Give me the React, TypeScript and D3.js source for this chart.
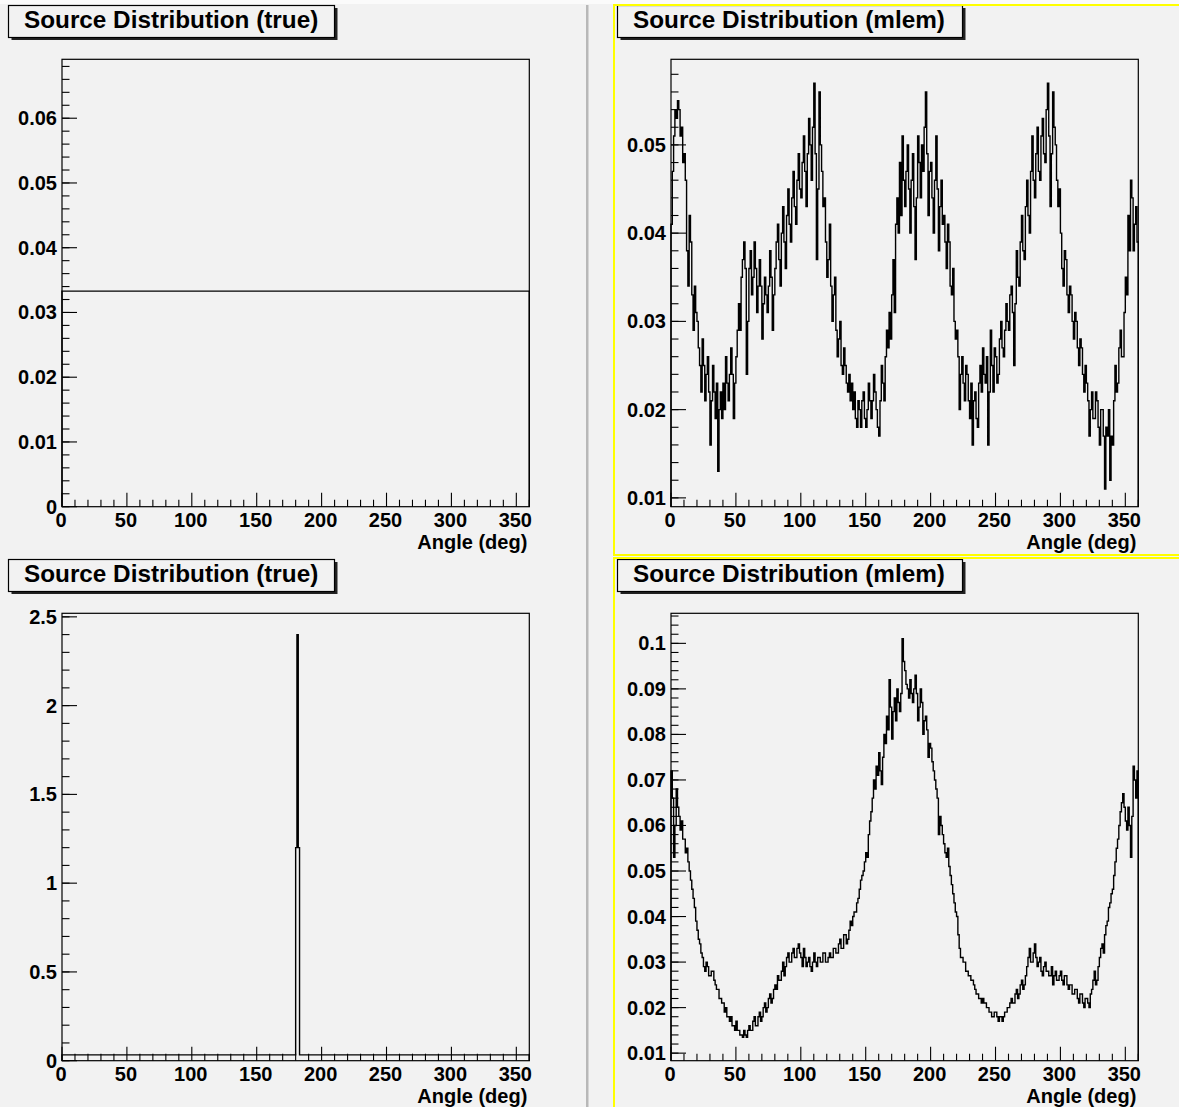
import React from "react";
import * as d3 from "d3";

// angle axis (deg)
const angleTicks = [0, 50, 100, 150, 200, 250, 300, 350];
const binWidth = 1;

// true distributions: bins given by edges
const trueUniform = [{ lo: 0, hi: 360, v: 0.0333 }];
const truePoint = [
  { lo: 0, hi: 180, v: 0.033 },
  { lo: 180, hi: 181, v: 1.2 },
  { lo: 181, hi: 182, v: 2.4 },
  { lo: 182, hi: 183, v: 1.2 },
  { lo: 183, hi: 360, v: 0.033 },
];

// mlem reconstruction, uniform source (1 deg bins)
const mlemUniform = [
  0.041, 0.047, 0.051, 0.054, 0.053, 0.055, 0.054, 0.051, 0.052, 0.048, 0.049, 0.046, 0.038, 0.034, 0.042, 0.039, 0.033, 0.029, 0.034, 0.031,
  0.03, 0.027, 0.025, 0.022, 0.028, 0.025, 0.021, 0.024, 0.026, 0.022, 0.016, 0.021, 0.025, 0.022, 0.019, 0.023, 0.013, 0.02, 0.022, 0.019,
  0.023, 0.02, 0.026, 0.023, 0.021, 0.024, 0.027, 0.024, 0.019, 0.023, 0.026, 0.029, 0.032, 0.029, 0.035, 0.037, 0.039, 0.036, 0.024, 0.03,
  0.036, 0.038, 0.033, 0.035, 0.039, 0.036, 0.031, 0.034, 0.037, 0.034, 0.028, 0.032, 0.035, 0.033, 0.031, 0.034, 0.038, 0.035, 0.029, 0.033,
  0.036, 0.039, 0.041, 0.037, 0.034, 0.04, 0.043, 0.039, 0.036, 0.042, 0.045, 0.041, 0.039, 0.044, 0.047, 0.043, 0.041, 0.046, 0.049, 0.045,
  0.044, 0.048, 0.051, 0.047, 0.043, 0.049, 0.053, 0.05, 0.046, 0.052, 0.057, 0.049, 0.037, 0.045, 0.056, 0.05, 0.047, 0.043, 0.044, 0.039,
  0.035, 0.037, 0.041, 0.034, 0.03, 0.033, 0.035, 0.029, 0.026, 0.028, 0.03, 0.025, 0.024, 0.027, 0.025, 0.023, 0.022, 0.024, 0.021, 0.023,
  0.02, 0.022, 0.019, 0.018, 0.021, 0.02, 0.018, 0.021, 0.022, 0.019, 0.018, 0.02, 0.023, 0.021, 0.019, 0.021, 0.024, 0.022, 0.02, 0.018,
  0.017, 0.021, 0.025, 0.023, 0.021, 0.026, 0.029, 0.027, 0.031, 0.028, 0.033, 0.037, 0.031, 0.041, 0.044, 0.04, 0.048, 0.042, 0.051, 0.046,
  0.043, 0.047, 0.05, 0.045, 0.04, 0.046, 0.049, 0.043, 0.037, 0.044, 0.051, 0.048, 0.044, 0.05, 0.047, 0.052, 0.056, 0.049, 0.042, 0.047,
  0.048, 0.044, 0.04, 0.046, 0.051, 0.045, 0.038, 0.043, 0.046, 0.041, 0.042, 0.039, 0.036, 0.041, 0.039, 0.034, 0.033, 0.036, 0.03, 0.028,
  0.029, 0.026, 0.02, 0.024, 0.026, 0.023, 0.021, 0.025, 0.024, 0.021, 0.019, 0.023, 0.016, 0.021, 0.022, 0.019, 0.018, 0.023, 0.025, 0.022,
  0.027, 0.024, 0.023, 0.026, 0.016, 0.022, 0.029, 0.025, 0.022, 0.027, 0.026, 0.023, 0.024, 0.028, 0.03, 0.027, 0.026, 0.029, 0.032, 0.03,
  0.029, 0.033, 0.034, 0.031, 0.025, 0.032, 0.038, 0.035, 0.034, 0.039, 0.042, 0.038, 0.037, 0.043, 0.046, 0.042, 0.04, 0.047, 0.051, 0.046,
  0.044, 0.049, 0.052, 0.047, 0.046, 0.051, 0.053, 0.049, 0.048, 0.054, 0.057, 0.051, 0.043, 0.049, 0.056, 0.052, 0.05, 0.046, 0.043, 0.045,
  0.04, 0.036, 0.034, 0.038, 0.037, 0.033, 0.031, 0.034, 0.033, 0.03, 0.028, 0.031, 0.03, 0.027, 0.025, 0.028, 0.027, 0.024, 0.022, 0.025,
  0.023, 0.021, 0.017, 0.02, 0.022, 0.019, 0.019, 0.022, 0.021, 0.018, 0.016, 0.02, 0.02, 0.017, 0.011, 0.018, 0.017, 0.02, 0.012, 0.017,
  0.016, 0.021, 0.025, 0.022, 0.023, 0.027, 0.029, 0.026, 0.026, 0.031, 0.035, 0.033, 0.042, 0.038, 0.046, 0.044, 0.038, 0.041, 0.043, 0.039,
];

// mlem reconstruction, point source (1 deg bins)
const mlemPoint = [
  0.072, 0.066, 0.053, 0.06, 0.068, 0.064, 0.062, 0.059, 0.061, 0.057, 0.057, 0.054, 0.055, 0.052, 0.05, 0.048, 0.046, 0.044, 0.042, 0.039,
  0.037, 0.035, 0.034, 0.032, 0.031, 0.029, 0.028, 0.03, 0.029, 0.027, 0.027, 0.028, 0.028, 0.026, 0.025, 0.024, 0.024, 0.022, 0.022, 0.021,
  0.021, 0.019, 0.02, 0.018, 0.018, 0.017, 0.018, 0.016, 0.016, 0.015, 0.017, 0.015, 0.015, 0.014, 0.014, 0.0135, 0.015, 0.014, 0.0135, 0.015,
  0.016, 0.015, 0.015, 0.017, 0.018, 0.016, 0.016, 0.018, 0.019, 0.017, 0.018, 0.02, 0.021, 0.019, 0.02, 0.022, 0.023, 0.021, 0.022, 0.024,
  0.025, 0.024, 0.027, 0.026, 0.026, 0.028, 0.03, 0.027, 0.029, 0.031, 0.032, 0.03, 0.03, 0.032, 0.033, 0.031, 0.031, 0.033, 0.034, 0.032,
  0.031, 0.029, 0.033, 0.031, 0.029, 0.03, 0.031, 0.029, 0.028, 0.03, 0.032, 0.03, 0.029, 0.031, 0.031, 0.03, 0.03, 0.032, 0.032, 0.03,
  0.03, 0.031, 0.032, 0.031, 0.031, 0.033, 0.033, 0.032, 0.032, 0.034, 0.035, 0.033, 0.033, 0.036, 0.036, 0.034, 0.035, 0.037, 0.039, 0.038,
  0.04, 0.041, 0.041, 0.043, 0.044, 0.046, 0.048, 0.049, 0.05, 0.052, 0.054, 0.053, 0.058, 0.061, 0.063, 0.066, 0.07, 0.068, 0.073, 0.071,
  0.076, 0.072, 0.069, 0.075, 0.08, 0.078, 0.084, 0.081, 0.092, 0.086, 0.079, 0.085, 0.088, 0.083, 0.09, 0.087, 0.085, 0.089, 0.101, 0.096,
  0.094, 0.091, 0.09, 0.088, 0.092, 0.089, 0.087, 0.09, 0.093, 0.089, 0.083, 0.086, 0.09, 0.087, 0.08, 0.083, 0.084, 0.081, 0.075, 0.078,
  0.077, 0.074, 0.072, 0.07, 0.068, 0.066, 0.058, 0.062, 0.06, 0.058, 0.056, 0.054, 0.053, 0.055, 0.051, 0.049, 0.047, 0.045, 0.043, 0.041,
  0.04, 0.036, 0.033, 0.031, 0.031, 0.03, 0.03, 0.028, 0.028, 0.027, 0.027, 0.026, 0.026, 0.025, 0.024, 0.023, 0.023, 0.022, 0.022, 0.021,
  0.022, 0.021, 0.021, 0.02, 0.02, 0.019, 0.019, 0.018, 0.018, 0.019, 0.019, 0.018, 0.017, 0.018, 0.018, 0.017, 0.018, 0.019, 0.019, 0.02,
  0.02, 0.021, 0.022, 0.021, 0.021, 0.023, 0.024, 0.022, 0.023, 0.025, 0.026, 0.024, 0.025, 0.027, 0.029, 0.031, 0.033, 0.03, 0.03, 0.032,
  0.034, 0.031, 0.029, 0.03, 0.031, 0.028, 0.027, 0.029, 0.03, 0.028, 0.028, 0.027, 0.027, 0.029, 0.025, 0.027, 0.028, 0.026, 0.026, 0.027,
  0.028, 0.026, 0.025, 0.027, 0.027, 0.025, 0.024, 0.025, 0.025, 0.023, 0.023, 0.024, 0.024, 0.022, 0.021, 0.023, 0.023, 0.021, 0.02, 0.022,
  0.022, 0.021, 0.02, 0.023, 0.024, 0.026, 0.028, 0.025, 0.026, 0.029, 0.031, 0.033, 0.034, 0.032, 0.036, 0.038, 0.039, 0.042, 0.043, 0.045,
  0.046, 0.049, 0.052, 0.055, 0.057, 0.06, 0.063, 0.065, 0.067, 0.064, 0.061, 0.059, 0.064, 0.06, 0.053, 0.062, 0.073, 0.07, 0.066, 0.072,
];

// y axis major ticks / labels per pad
const yTicksUniformTrue = ["0", "0.01", "0.02", "0.03", "0.04", "0.05", "0.06"];
const yTicksUniformMlem = ["0.01", "0.02", "0.03", "0.04", "0.05"];
const yTicksPointTrue = ["0", "0.5", "1", "1.5", "2", "2.5"];
const yTicksPointMlem = ["0.01", "0.02", "0.03", "0.04", "0.05", "0.06", "0.07", "0.08", "0.09", "0.1"];

const FONT = "'Liberation Sans', Arial, Helvetica, sans-serif";

type Bin = { lo: number; hi: number; v: number };

const toBins = (vals: number[]): Bin[] =>
  vals.map((v, i) => ({ lo: i * binWidth, hi: (i + 1) * binWidth, v }));

const Pad = ({ ox, oy, title, bins, yDomain, yTicks, minorDiv, boxW }: {
  ox: number; oy: number; title: string; bins: Bin[]; yDomain: [number, number];
  yTicks: string[]; minorDiv: number; boxW: number;
}) => {
  const left = ox + 62, right = ox + 529.3, top = oy + 59.3, bottom = oy + 506.7;
  const x = d3.scaleLinear().domain([0, 360]).range([left, right]);
  const y = d3.scaleLinear().domain(yDomain).range([bottom, top]);

  // step outline, closed down to the frame bottom at both ends
  const pts: [number, number][] = [[bins[0].lo, yDomain[0]]];
  bins.forEach((b) => pts.push([b.lo, b.v]));
  const last = bins[bins.length - 1];
  pts.push([last.hi, last.v]);
  pts.push([last.hi, yDomain[0]]);
  const line = d3.line<[number, number]>()
    .x((d) => x(d[0]))
    .y((d) => y(d[1]))
    .curve(d3.curveStepAfter);

  const majors = yTicks.map(Number);
  const minorStep = (majors[1] - majors[0]) / minorDiv;
  const yMinor: number[] = [];
  for (let k = Math.ceil(yDomain[0] / minorStep - 1e-6); k * minorStep <= yDomain[1] + 1e-9; k++) {
    yMinor.push(k * minorStep);
  }
  const xMinor = d3.range(0, 361, 10);

  return (
    <g>
      {/* title pave with shadow */}
      <rect x={ox + 11.5} y={oy + 8} width={boxW} height={32} fill="#222" />
      <rect x={ox + 8.5} y={oy + 5.5} width={boxW} height={32} fill="#f2f2f2" stroke="#000" strokeWidth={1.2} />
      <text x={ox + 24} y={oy + 28} fontFamily={FONT} fontWeight="bold" fontSize={24.3} fill="#000">{title}</text>

      {/* frame */}
      <rect x={left} y={top} width={right - left} height={bottom - top} fill="none" stroke="#000" strokeWidth={1.2} />

      {/* y ticks */}
      {yMinor.map((v, i) => (
        <line key={"ym" + i} x1={left} x2={left + 7.5} y1={y(v)} y2={y(v)} stroke="#000" strokeWidth={1.1} />
      ))}
      {majors.map((v, i) => (
        <g key={"yM" + i}>
          <line x1={left} x2={left + 15} y1={y(v)} y2={y(v)} stroke="#000" strokeWidth={1.1} />
          <text x={left - 5} y={y(v) + 7} textAnchor="end" fontFamily={FONT} fontWeight="bold" fontSize={20}>{yTicks[i]}</text>
        </g>
      ))}

      {/* x ticks */}
      {xMinor.map((v) => (
        <line key={"xm" + v} x1={x(v)} x2={x(v)} y1={bottom} y2={bottom - (v % 50 === 0 ? 14 : 7)} stroke="#000" strokeWidth={1.1} />
      ))}
      {angleTicks.map((v) => (
        <text key={"xl" + v} x={x(v) - 1} y={oy + 526.5} textAnchor="middle" fontFamily={FONT} fontWeight="bold" fontSize={20}>{v}</text>
      ))}
      <text x={right - 2} y={oy + 548.5} textAnchor="end" fontFamily={FONT} fontWeight="bold" fontSize={20}>Angle (deg)</text>

      {/* histogram */}
      <path d={line(pts) ?? ""} fill="none" stroke="#000" strokeWidth={1.4} />
    </g>
  );
};

export default function App() {
  return (
    <svg width={1179} height={1107} style={{ position: "absolute", left: 0, top: 0, background: "#f2f2f2" }}>
      <rect x={0} y={0} width={1179} height={1107} fill="#f2f2f2" />
      <rect x={0} y={0} width={1179} height={4} fill="#fbfbfb" />
      <rect x={586} y={5} width={2.5} height={1102} fill="#b8b8b8" />

      <Pad ox={0} oy={0} title="Source Distribution (true)" bins={trueUniform}
        yDomain={[0, 0.0691]} yTicks={yTicksUniformTrue} minorDiv={5} boxW={326} />
      <Pad ox={609} oy={0} title="Source Distribution (mlem)" bins={toBins(mlemUniform)}
        yDomain={[0.009, 0.0597]} yTicks={yTicksUniformMlem} minorDiv={5} boxW={345} />
      <Pad ox={0} oy={554} title="Source Distribution (true)" bins={truePoint}
        yDomain={[0, 2.52]} yTicks={yTicksPointTrue} minorDiv={5} boxW={326} />
      <Pad ox={609} oy={554} title="Source Distribution (mlem)" bins={toBins(mlemPoint)}
        yDomain={[0.00834, 0.1066]} yTicks={yTicksPointMlem} minorDiv={5} boxW={345} />

      {/* highlighted pads */}
      <rect x={614} y={5} width={600} height={550} fill="none" stroke="#ffff00" strokeWidth={2} />
      <rect x={614} y={558} width={600} height={600} fill="none" stroke="#ffff00" strokeWidth={2} />
    </svg>
  );
}
